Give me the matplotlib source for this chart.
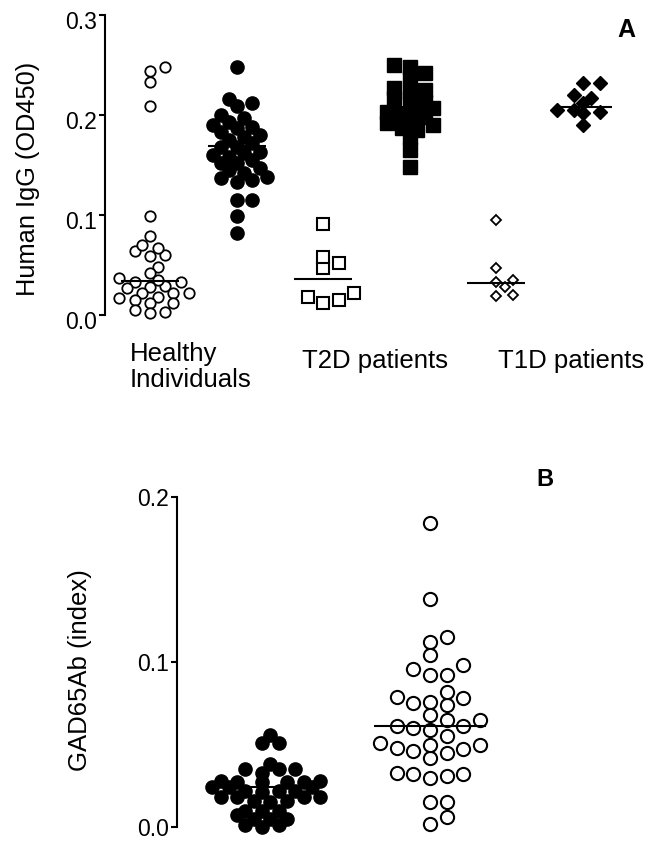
import numpy as np
import matplotlib
matplotlib.use("Agg")
import matplotlib.pyplot as plt
from matplotlib.ticker import FormatStrFormatter
from matplotlib.transforms import ScaledTranslation

plt.rcParams['font.family'] = ['Liberation Sans', 'DejaVu Sans']

# ---- panel A: human IgG (OD450) ----
healthy_open = [0.244, 0.233, 0.248, 0.209, 0.099, 0.079, 0.064, 0.060, 0.067, 0.070,
                0.059, 0.048, 0.042, 0.029, 0.033, 0.035, 0.037, 0.033, 0.028, 0.022,
                0.027, 0.018, 0.022, 0.022, 0.015, 0.012, 0.017, 0.005, 0.002, 0.003, 0.012]
healthy_filled = [0.248, 0.212, 0.209, 0.216, 0.200, 0.197, 0.193, 0.183, 0.188, 0.187,
                  0.190, 0.180, 0.178, 0.175, 0.163, 0.168, 0.172, 0.168, 0.162, 0.158,
                  0.160, 0.152, 0.155, 0.152, 0.147, 0.145, 0.135, 0.138, 0.133, 0.137,
                  0.142, 0.115, 0.115, 0.099, 0.082]
t2d_open = [0.091, 0.052, 0.047, 0.058, 0.018, 0.012, 0.022, 0.015]
t2d_filled = [0.250, 0.242, 0.248, 0.237, 0.227, 0.217, 0.225, 0.223, 0.213, 0.212,
              0.205, 0.207, 0.200, 0.198, 0.192, 0.193, 0.185, 0.187, 0.178, 0.165,
              0.148, 0.190, 0.203]
t1d_open = [0.095, 0.047, 0.035, 0.028, 0.033, 0.020, 0.019]
t1d_filled = [0.232, 0.232, 0.220, 0.217, 0.212, 0.205, 0.203, 0.205, 0.202, 0.190]
medians_a = [0.034, 0.169, 0.036, 0.208, 0.032, 0.208]
group_labels_a = ["Healthy\nIndividuals", "T2D patients", "T1D patients"]

# ---- panel B: GAD65Ab (index) ----
gad_filled = [0.056, 0.051, 0.051, 0.035, 0.035, 0.033, 0.035, 0.038, 0.028, 0.027,
              0.027, 0.027, 0.027, 0.028, 0.024, 0.022, 0.024, 0.024, 0.022, 0.021,
              0.022, 0.018, 0.016, 0.018, 0.018, 0.016, 0.015, 0.018, 0.007, 0.010,
              0.010, 0.010, 0.005, 0.000, 0.001, 0.005, 0.005, 0.001]
gad_open = [0.184, 0.138, 0.115, 0.112, 0.104, 0.098, 0.092, 0.092, 0.096, 0.074,
            0.079, 0.076, 0.078, 0.082, 0.075, 0.065, 0.065, 0.068, 0.061, 0.060,
            0.059, 0.061, 0.055, 0.050, 0.047, 0.051, 0.045, 0.042, 0.046, 0.048,
            0.050, 0.033, 0.032, 0.030, 0.031, 0.032, 0.015, 0.015, 0.002, 0.006]
medians_b = [0.024, 0.061]

W, H = 658, 841
fig = plt.figure(figsize=(W / 100, H / 100), dpi=100)


def px_axes(left, top, right, bottom):
    return fig.add_axes([left / W, 1 - bottom / H, (right - left) / W, (bottom - top) / H])


def swarm(ax, x0, vals, step, mind):
    # simple beeswarm: columns of width `step` px, min spacing `mind` px
    vals = np.asarray(vals, dtype=float)
    pts = ax.transData.transform(np.column_stack([np.full(len(vals), x0), vals]))
    unit = ax.transData.transform([(1, 0)])[0][0] - ax.transData.transform([(0, 0)])[0][0]
    placed = []
    xs = np.zeros(len(vals))
    for i in np.argsort(vals):
        y = pts[i, 1]
        for k in [0, 1, -1, 2, -2, 3, -3, 4, -4, 5, -5, 6, -6, 7, -7]:
            dx = k * step
            if all((dx - px) ** 2 + (y - py) ** 2 >= mind ** 2 for px, py in placed):
                break
        placed.append((dx, y))
        xs[i] = x0 + dx / unit
    return xs


def style(ax, ticks, shift):
    for s in ['top', 'right', 'bottom']:
        ax.spines[s].set_visible(False)
    ax.spines['left'].set_linewidth(1.5)
    ax.set_xticks([])
    ax.set_yticks(ticks)
    ax.yaxis.set_major_formatter(FormatStrFormatter('%.1f'))
    ax.tick_params(axis='y', length=4, width=1.5, labelsize=16.5, pad=2)
    for lab in ax.get_yticklabels():
        lab.set_transform(lab.get_transform() + ScaledTranslation(0, -shift / 100, fig.dpi_scale_trans))


open_kw = dict(mfc='white', mec='black')
fill_kw = dict(mfc='black', mec='black')

# panel A
axA = px_axes(105, 15, 640, 315)
axA.set_xlim(-0.52, 5.66)
axA.set_ylim(0, 0.3)
style(axA, [0, 0.1, 0.2, 0.3], 5)

series_a = [
    (healthy_open, 'o', 7.5, 1.3, open_kw, 7.7, 9.2),
    (healthy_filled, 'o', 9.5, 1.0, fill_kw, 7.7, 9.5),
    (t2d_open, 's', 8.5, 1.5, open_kw, 7.7, 11),
    (t2d_filled, 's', 9.5, 1.0, fill_kw, 7.7, 9.5),
    (t1d_open, 'D', 5.5, 1.3, open_kw, 8.5, 9.5),
    (t1d_filled, 'D', 7.5, 1.0, fill_kw, 8.5, 9),
]
for i, (vals, mk, ms, mew, kw, step, mind) in enumerate(series_a):
    xs = swarm(axA, i, vals, step, mind)
    axA.plot(xs, vals, ls='none', marker=mk, ms=ms, mew=mew, clip_on=False, zorder=2, **kw)
    axA.hlines(medians_a[i], i - 0.335, i + 0.335, color='black', lw=1.5, zorder=3, clip_on=False)

axA.text(-0.23, -0.052, group_labels_a[0], ha='left', va='center', fontsize=18.5, linespacing=1.15)
axA.text(2.60, -0.046, group_labels_a[1], ha='center', va='center', fontsize=18.5)
axA.text(4.86, -0.046, group_labels_a[2], ha='center', va='center', fontsize=18.5)

fig.text(28 / W, 1 - 179 / H, "Human IgG (OD450)", rotation=90, ha='center', va='center', fontsize=18.3)
fig.text(626 / W, 1 - 30 / H, "A", ha='center', va='center', fontsize=18, fontweight='bold')

# panel B
axB = px_axes(177, 497, 640, 827)
axB.set_xlim(-0.506, 2.25)
axB.set_ylim(0, 0.2)
style(axB, [0, 0.1, 0.2], 0)

series_b = [
    (gad_filled, 'o', 9.5, 1.0, fill_kw, 8.3, 9),
    (gad_open, 'o', 9.5, 1.5, open_kw, 16.7, 13),
]
for i, (vals, mk, ms, mew, kw, step, mind) in enumerate(series_b):
    xs = swarm(axB, i, vals, step, mind)
    axB.plot(xs, vals, ls='none', marker=mk, ms=ms, mew=mew, clip_on=False, zorder=2, **kw)
    axB.hlines(medians_b[i], i - 0.335, i + 0.335, color='black', lw=1.5, zorder=3, clip_on=False)

fig.text(80 / W, 1 - 670 / H, "GAD65Ab (index)", rotation=90, ha='center', va='center', fontsize=18.5)
fig.text(545 / W, 1 - 479 / H, "B", ha='center', va='center', fontsize=17, fontweight='bold')

fig.savefig("out.png", dpi=100)
